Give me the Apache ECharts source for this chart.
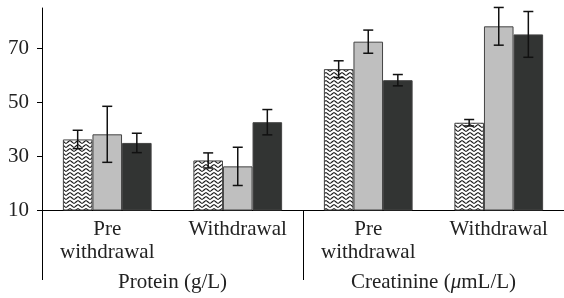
<!DOCTYPE html>
<html>
<head>
<meta charset="utf-8">
<script src="https://cdn.jsdelivr.net/npm/echarts@6/dist/echarts.min.js"></script>
<style>
  html, body { margin: 0; padding: 0; background: #fff; }
  #chart { width: 564px; height: 298px; }
</style>
</head>
<body>
<div id="chart"></div>
<script>
// categories and group labels
const categories = ["Pre\nwithdrawal", "Withdrawal", "Pre\nwithdrawal", "Withdrawal"];
const groups = ["Protein (g/L)", "Creatinine (μmL/L)"];
const yTicks = [10, 30, 50, 70];

// bar heights
const patternVals = [36.2, 28.4, 62.3, 42.4];
const grayVals = [38.1, 26.2, 72.5, 78.2];
const darkVals = [34.9, 42.6, 58.2, 75.2];

// error half-widths
const patternErr = [3.4, 2.8, 3.1, 1.2];
const grayErr = [10.4, 7.1, 4.3, 7.0];
const darkErr = [3.6, 4.7, 2.1, 8.5];

const FONT = "'Liberation Serif', 'DejaVu Serif', serif";
const FS = 21;
const GAP = 0.32;

// wavy hatch fill for first series
function makeWave() {
  const c = document.createElement("canvas");
  c.width = 8;
  c.height = 4;
  const ctx = c.getContext("2d");
  ctx.fillStyle = "#fff";
  ctx.fillRect(0, 0, 8, 4);
  ctx.strokeStyle = "#1a1a1a";
  ctx.lineWidth = 1.1;
  ctx.beginPath();
  for (let x = -1; x <= 9; x += 0.25) {
    const y = 2 + 1.2 * Math.sin((x / 8) * Math.PI * 2);
    if (x === -1) ctx.moveTo(x, y);
    else ctx.lineTo(x, y);
  }
  ctx.stroke();
  return c;
}

const seriesVals = [patternVals, grayVals, darkVals];
const seriesErr = [patternErr, grayErr, darkErr];
const errData = [];
seriesVals.forEach((vals, s) => {
  vals.forEach((v, i) => {
    errData.push([i, v - seriesErr[s][i], v + seriesErr[s][i], s]);
  });
});

const chart = echarts.init(document.getElementById("chart"));

const barBase = {
  type: "bar",
  barGap: "0%",
  barCategoryGap: (GAP * 100) + "%",
  xAxisIndex: 0,
};

const option = {
  animation: false,
  grid: { left: 42, right: -2, top: 8, bottom: 88 },
  xAxis: [
    {
      type: "category",
      data: categories,
      axisLine: { lineStyle: { color: "#000", width: 1 } },
      axisTick: { show: false },
      axisLabel: {
        color: "#222",
        fontFamily: FONT,
        fontSize: FS,
        lineHeight: 23,
        margin: 8,
        interval: 0,
      },
    },
    {
      type: "category",
      data: groups,
      position: "bottom",
      axisLine: { show: false },
      axisTick: {
        show: true,
        interval: 0,
        length: 70,
        lineStyle: { color: "#000", width: 1 },
      },
      axisLabel: {
        color: "#222",
        fontFamily: FONT,
        fontSize: FS,
        margin: 62,
        interval: 0,
        formatter: (v) => v.replace("μ", "{i|μ}"),
        rich: { i: { fontStyle: "italic", fontFamily: FONT, fontSize: FS, color: "#222" } },
      },
    },
  ],
  yAxis: {
    type: "value",
    min: 10,
    max: 85,
    interval: 20,
    splitLine: { show: false },
    axisLine: { show: true, lineStyle: { color: "#000", width: 1 } },
    axisTick: { show: true, length: 5, customValues: yTicks, lineStyle: { color: "#000" } },
    axisLabel: {
      color: "#222",
      fontFamily: FONT,
      fontSize: FS,
      margin: 13,
      customValues: yTicks,
    },
  },
  series: [
    Object.assign({}, barBase, {
      name: "s1",
      data: patternVals,
      itemStyle: {
        color: { image: makeWave(), repeat: "repeat" },
        borderColor: "#444",
        borderWidth: 1,
      },
    }),
    Object.assign({}, barBase, {
      name: "s2",
      data: grayVals,
      itemStyle: { color: "#bfbfbf", borderColor: "#444", borderWidth: 1 },
    }),
    Object.assign({}, barBase, {
      name: "s3",
      data: darkVals,
      itemStyle: { color: "#323433", borderColor: "#444", borderWidth: 1 },
    }),
    {
      type: "custom",
      name: "err",
      z: 5,
      data: errData,
      encode: { x: 0, y: [1, 2] },
      renderItem: (params, api) => {
        const i = api.value(0);
        const s = api.value(3);
        const lo = api.coord([i, api.value(1)]);
        const hi = api.coord([i, api.value(2)]);
        const band = api.size([1, 0])[0];
        const bw = band * (1 - GAP) / 3;
        const x = lo[0] + (s - 1) * bw;
        const cap = 5;
        const style = { stroke: "#111", lineWidth: 1.5 };
        return {
          type: "group",
          children: [
            { type: "line", shape: { x1: x, y1: lo[1], x2: x, y2: hi[1] }, style },
            { type: "line", shape: { x1: x - cap, y1: lo[1], x2: x + cap, y2: lo[1] }, style },
            { type: "line", shape: { x1: x - cap, y1: hi[1], x2: x + cap, y2: hi[1] }, style },
          ],
        };
      },
    },
  ],
};

chart.setOption(option);
</script>
</body>
</html>
